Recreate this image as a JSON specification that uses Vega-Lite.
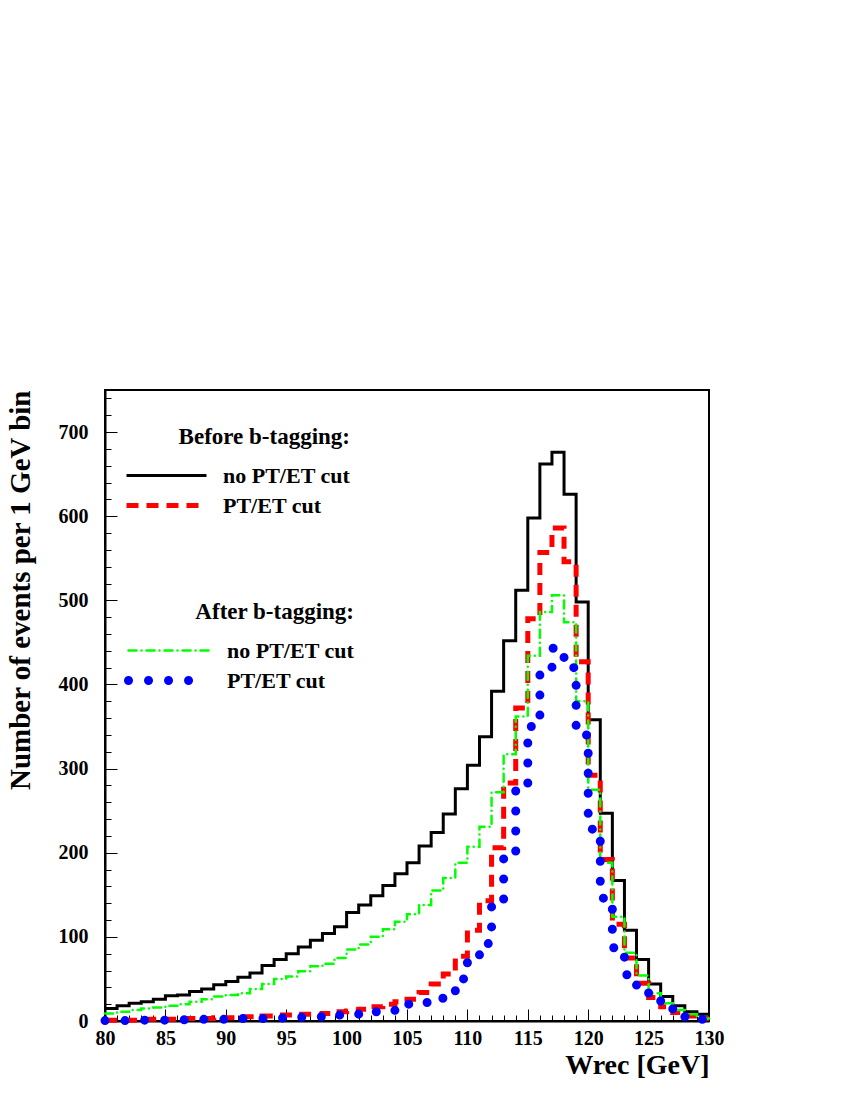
{
  "$schema": "https://vega.github.io/schema/vega-lite/v6.json",
  "width": 604,
  "height": 631,
  "autosize": "none",
  "padding": {"left": 105, "top": 390, "right": 141, "bottom": 79},
  "background": "white",
  "config": {
    "view": {"stroke": "black", "strokeWidth": 2},
    "font": "Liberation Serif",
    "axis": {
      "labelFont": "Liberation Serif", "labelFontWeight": "bold", "labelColor": "black",
      "titleFont": "Liberation Serif", "titleFontWeight": "bold", "titleColor": "black",
      "domainColor": "black", "domainWidth": 2, "tickColor": "black", "tickWidth": 1, "grid": false
    },
    "legend": {
      "titleFont": "Liberation Serif", "titleFontSize": 23, "titleFontWeight": "bold", "titleColor": "black",
      "labelFont": "Liberation Serif", "labelFontSize": 22, "labelFontWeight": "bold", "labelColor": "black",
      "symbolSize": 400, "symbolOffset": 30, "labelOffset": 44, "titlePadding": 15, "rowPadding": 6, "padding": 0,
      "titleLimit": 400, "labelLimit": 400
    }
  },
  "data": {
    "values": [
      {"w": 80, "bn": 15, "bc": 1, "an": 9, "ac": 0.5},
      {"w": 81, "bn": 18, "bc": 1, "an": 11, "ac": 0.5},
      {"w": 82, "bn": 21, "bc": 1, "an": 13, "ac": 1},
      {"w": 83, "bn": 23, "bc": 2, "an": 15, "ac": 1},
      {"w": 84, "bn": 26, "bc": 2, "an": 16, "ac": 1},
      {"w": 85, "bn": 30, "bc": 2, "an": 18, "ac": 1},
      {"w": 86, "bn": 31, "bc": 3, "an": 20, "ac": 1.5},
      {"w": 87, "bn": 35, "bc": 3, "an": 23, "ac": 2},
      {"w": 88, "bn": 38, "bc": 3, "an": 26, "ac": 2},
      {"w": 89, "bn": 43, "bc": 4, "an": 29, "ac": 2},
      {"w": 90, "bn": 47, "bc": 4, "an": 31, "ac": 2.5},
      {"w": 91, "bn": 52, "bc": 5, "an": 33, "ac": 3},
      {"w": 92, "bn": 57, "bc": 5, "an": 38, "ac": 3},
      {"w": 93, "bn": 66, "bc": 6, "an": 44, "ac": 3},
      {"w": 94, "bn": 73, "bc": 7, "an": 50, "ac": 3.5},
      {"w": 95, "bn": 80, "bc": 7, "an": 53, "ac": 4},
      {"w": 96, "bn": 88, "bc": 8, "an": 59, "ac": 4.5},
      {"w": 97, "bn": 96, "bc": 8, "an": 65, "ac": 5},
      {"w": 98, "bn": 104, "bc": 9, "an": 68, "ac": 6},
      {"w": 99, "bn": 112, "bc": 11, "an": 75, "ac": 7},
      {"w": 100, "bn": 129, "bc": 12, "an": 85, "ac": 8},
      {"w": 101, "bn": 138, "bc": 14, "an": 91, "ac": 9},
      {"w": 102, "bn": 149, "bc": 17, "an": 100, "ac": 11},
      {"w": 103, "bn": 161, "bc": 20, "an": 109, "ac": 12},
      {"w": 104, "bn": 175, "bc": 23, "an": 118, "ac": 15},
      {"w": 105, "bn": 188, "bc": 26, "an": 127, "ac": 20},
      {"w": 106, "bn": 208, "bc": 34, "an": 138, "ac": 22},
      {"w": 107, "bn": 224, "bc": 44, "an": 155, "ac": 27},
      {"w": 108, "bn": 246, "bc": 56, "an": 170, "ac": 36},
      {"w": 109, "bn": 276, "bc": 77, "an": 188, "ac": 50},
      {"w": 110, "bn": 304, "bc": 108, "an": 207, "ac": 76},
      {"w": 111, "bn": 338, "bc": 143, "an": 231, "ac": 92},
      {"w": 112, "bn": 392, "bc": 206, "an": 272, "ac": 142},
      {"w": 113, "bn": 452, "bc": 283, "an": 317, "ac": 201},
      {"w": 114, "bn": 512, "bc": 372, "an": 362, "ac": 276},
      {"w": 115, "bn": 598, "bc": 478, "an": 434, "ac": 350},
      {"w": 116, "bn": 662, "bc": 557, "an": 486, "ac": 415},
      {"w": 117, "bn": 676, "bc": 586, "an": 506, "ac": 443},
      {"w": 118, "bn": 626, "bc": 546, "an": 474, "ac": 420},
      {"w": 119, "bn": 498, "bc": 427, "an": 380, "ac": 340},
      {"w": 120, "bn": 358, "bc": 292, "an": 275, "ac": 228},
      {"w": 121, "bn": 247, "bc": 192, "an": 188, "ac": 146},
      {"w": 122, "bn": 167, "bc": 115, "an": 124, "ac": 87},
      {"w": 123, "bn": 108, "bc": 75, "an": 81, "ac": 55},
      {"w": 124, "bn": 73, "bc": 45, "an": 54, "ac": 37},
      {"w": 125, "bn": 44, "bc": 28, "an": 33, "ac": 24},
      {"w": 126, "bn": 29, "bc": 17, "an": 21, "ac": 15},
      {"w": 127, "bn": 18, "bc": 10, "an": 13, "ac": 9},
      {"w": 128, "bn": 11, "bc": 6, "an": 8, "ac": 4},
      {"w": 129, "bn": 8, "bc": 3, "an": 3, "ac": 2},
      {"w": 130, "bn": 8, "bc": 3, "an": 3, "ac": 2}
    ]
  },
  "layer": [
    {
      "layer": [
        {
          "mark": {"type": "line", "interpolate": "step-after"},
          "encoding": {
            "x": {"field": "w", "type": "quantitative", "scale": {"domain": [80, 130], "nice": false, "zero": false},
                  "axis": {"orient": "bottom", "values": [80, 85, 90, 95, 100, 105, 110, 115, 120, 125, 130], "tickSize": -12, "labelPadding": 19, "labelFontSize": 20, "labelFlush": false, "labelOverlap": false, "title": "Wrec [GeV]", "titleFontSize": 28, "titleAnchor": "end", "titlePadding": 3}},
            "y": {"field": "bn", "type": "quantitative", "scale": {"domain": [0, 750], "nice": false},
                  "axis": {"orient": "left", "values": [0, 100, 200, 300, 400, 500, 600, 700], "tickSize": -12, "labelPadding": 29, "labelFontSize": 20, "title": "Number of events per 1 GeV bin", "titleFontSize": 29, "titleAnchor": "end", "titlePadding": 23}},
            "color": {"datum": "b1", "type": "nominal", "scale": {"domain": ["b1", "b2"], "range": ["#000000", "#ff0000"]},
                      "legend": {"title": "Before b-tagging:", "orient": "none", "legendX": 19, "legendY": 36, "titleAnchor": "end", "symbolType": "M-4,0H4", "labelExpr": "datum.label == 'b1' ? 'no PT/ET cut' : 'PT/ET cut'"}},
            "strokeDash": {"datum": "b1", "type": "nominal", "scale": {"domain": ["b1", "b2"], "range": [[1, 0], [12, 8]]},
                      "legend": {"title": "Before b-tagging:", "orient": "none", "legendX": 19, "legendY": 36, "titleAnchor": "end", "symbolType": "M-4,0H4", "labelExpr": "datum.label == 'b1' ? 'no PT/ET cut' : 'PT/ET cut'"}},
            "strokeWidth": {"datum": "b1", "type": "ordinal", "scale": {"domain": ["b1", "b2"], "range": [3, 5]},
                      "legend": {"title": "Before b-tagging:", "orient": "none", "legendX": 19, "legendY": 36, "titleAnchor": "end", "symbolType": "M-4,0H4", "labelExpr": "datum.label == 'b1' ? 'no PT/ET cut' : 'PT/ET cut'"}}
          }
        },
        {
          "mark": {"type": "line", "interpolate": "step-after"},
          "encoding": {
            "x": {"field": "w", "type": "quantitative"},
            "y": {"field": "bc", "type": "quantitative"},
            "color": {"datum": "b2", "type": "nominal"},
            "strokeDash": {"datum": "b2", "type": "nominal"},
            "strokeWidth": {"datum": "b2", "type": "ordinal"}
          }
        }
      ]
    },
    {
      "layer": [
        {
          "mark": {"type": "line", "interpolate": "step-after", "strokeCap": "round"},
          "encoding": {
            "x": {"field": "w", "type": "quantitative", "axis": null},
            "y": {"field": "an", "type": "quantitative", "axis": null},
            "color": {"datum": "a1", "type": "nominal", "scale": {"domain": ["a1", "a2"], "range": ["#00ff00", "#0000ff"]},
                      "legend": {"title": "After b-tagging:", "orient": "none", "legendX": 19, "legendY": 211, "titleAnchor": "end", "rowPadding": 0, "symbolType": "M-4,0H4", "labelExpr": "datum.label == 'a1' ? 'no PT/ET cut' : 'PT/ET cut'", "encode": {"symbols": {"update": {"strokeCap": {"value": "round"}}}}}},
            "strokeDash": {"datum": "a1", "type": "nominal", "scale": {"domain": ["a1", "a2"], "range": [[8, 5, 0.01, 5], [0.01, 20]]},
                      "legend": {"title": "After b-tagging:", "orient": "none", "legendX": 19, "legendY": 211, "titleAnchor": "end", "rowPadding": 0, "symbolType": "M-4,0H4", "labelExpr": "datum.label == 'a1' ? 'no PT/ET cut' : 'PT/ET cut'", "encode": {"symbols": {"update": {"strokeCap": {"value": "round"}}}}}},
            "strokeWidth": {"datum": "a1", "type": "ordinal", "scale": {"domain": ["a1", "a2"], "range": [2.5, 9]},
                      "legend": {"title": "After b-tagging:", "orient": "none", "legendX": 19, "legendY": 211, "titleAnchor": "end", "rowPadding": 0, "symbolType": "M-4,0H4", "labelExpr": "datum.label == 'a1' ? 'no PT/ET cut' : 'PT/ET cut'", "encode": {"symbols": {"update": {"strokeCap": {"value": "round"}}}}}}
          }
        },
        {
          "mark": {"type": "line", "interpolate": "step-after", "strokeCap": "round"},
          "encoding": {
            "x": {"field": "w", "type": "quantitative", "axis": null},
            "y": {"field": "ac", "type": "quantitative", "axis": null},
            "color": {"datum": "a2", "type": "nominal"},
            "strokeDash": {"datum": "a2", "type": "nominal"},
            "strokeWidth": {"datum": "a2", "type": "ordinal"}
          }
        }
      ]
    },
    {
      "mark": {"type": "line", "opacity": 0},
      "encoding": {
        "x": {"field": "w", "type": "quantitative",
              "axis": {"orient": "bottom", "values": [80,81,82,83,84,85,86,87,88,89,90,91,92,93,94,95,96,97,98,99,100,101,102,103,104,105,106,107,108,109,110,111,112,113,114,115,116,117,118,119,120,121,122,123,124,125,126,127,128,129,130], "tickSize": -6, "labels": false, "domain": false, "title": null}},
        "y": {"field": "bn", "type": "quantitative",
              "axis": {"orient": "left", "values": [0,20,40,60,80,100,120,140,160,180,200,220,240,260,280,300,320,340,360,380,400,420,440,460,480,500,520,540,560,580,600,620,640,660,680,700,720,740], "tickSize": -6, "labels": false, "domain": false, "title": null}}
      }
    }
  ],
  "resolve": {
    "scale": {"color": "independent", "strokeDash": "independent", "strokeWidth": "independent"},
    "axis": {"x": "independent", "y": "independent"}
  }
}
